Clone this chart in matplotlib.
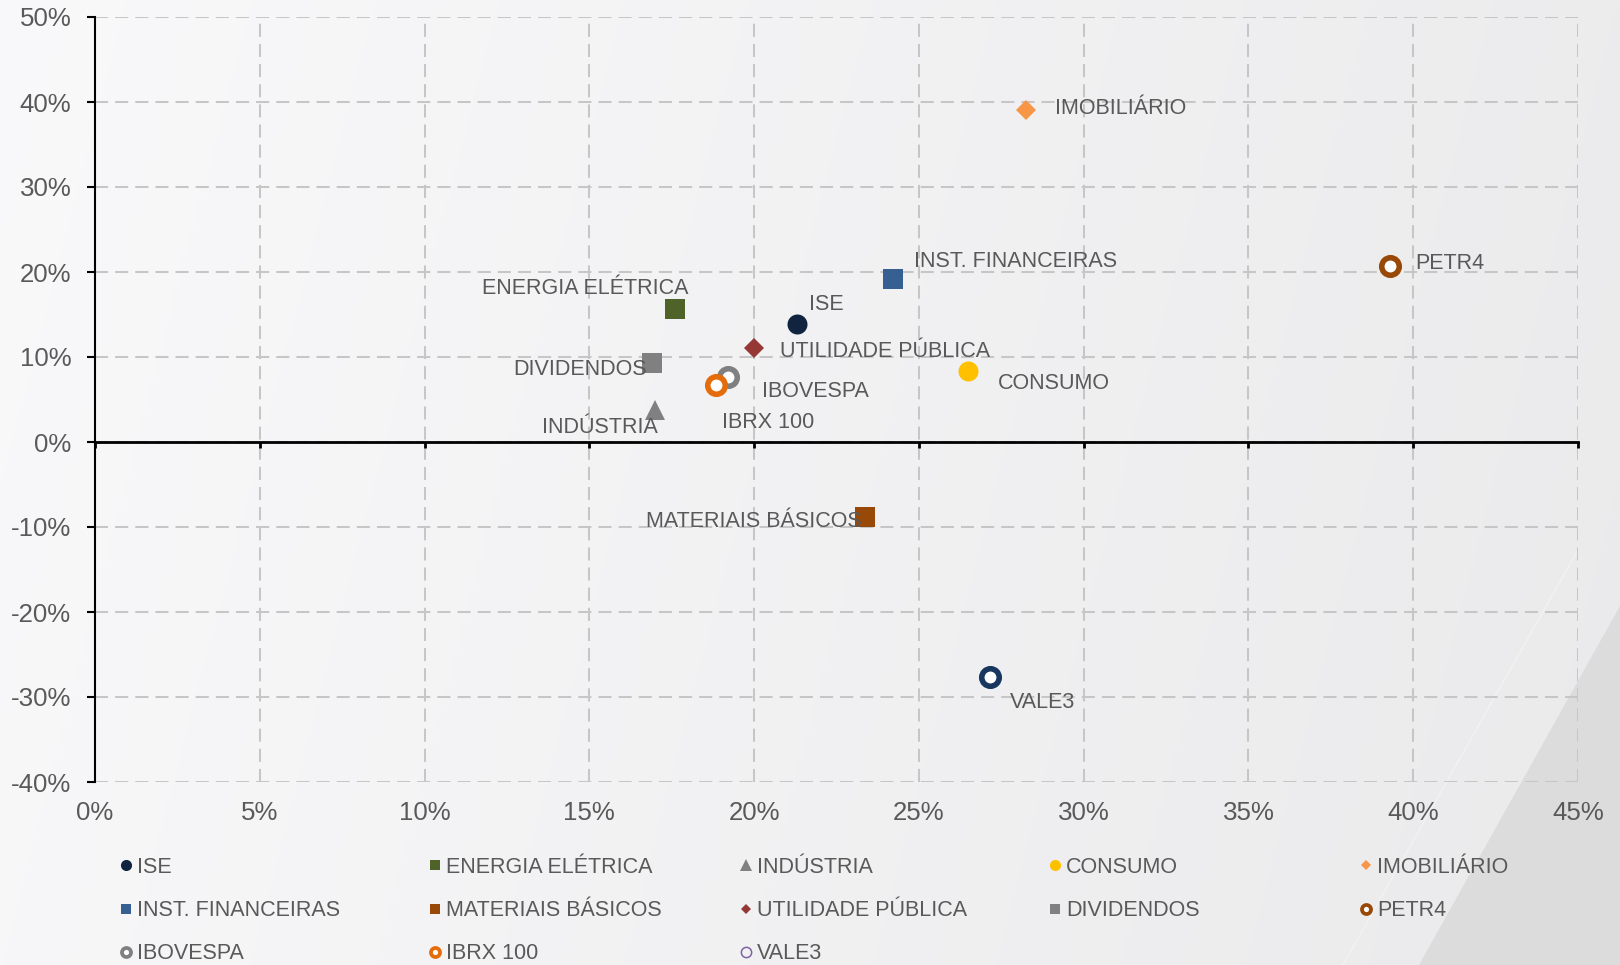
import matplotlib
matplotlib.use('Agg')
import matplotlib.pyplot as plt
from matplotlib.lines import Line2D
from matplotlib.patches import Polygon
from matplotlib.ticker import FuncFormatter, MultipleLocator
import numpy as np

plt.rcParams['font.family'] = ['Liberation Sans', 'DejaVu Sans']

TEXT_COLOR = '#595959'
GRID_COLOR = '#C6C6C6'
LABEL_FS = 15.5

# --- data -------------------------------------------------------------------
names = ['ISE', 'ENERGIA ELÉTRICA', 'INDÚSTRIA', 'CONSUMO', 'IMOBILIÁRIO',
         'INST. FINANCEIRAS', 'MATERIAIS BÁSICOS', 'UTILIDADE PÚBLICA',
         'DIVIDENDOS', 'PETR4', 'IBOVESPA', 'IBRX 100', 'VALE3']
risk = [21.3, 17.6, 17.0, 26.5, 28.25, 24.2, 23.35, 20.0, 16.9, 39.3, 19.2, 18.85, 27.15]
ret = [13.9, 15.6, 3.8, 8.4, 39.0, 19.2, -8.8, 11.1, 9.3, 20.7, 7.6, 6.7, -27.7]

colors = ['#10243F', '#4F6228', '#808080', '#FFC000', '#F79646',
          '#376092', '#984807', '#953735', '#808080', '#984807',
          '#808080', '#E46C0A', '#17375E']
markers = ['o', 's', '^', 'o', 'D', 's', 's', 'D', 's', 'o', 'o', 'o', 'o']
rings = [False, False, False, False, False, False, False, False, False, True, True, True, True]

# label offsets in pixels (dx, dy) and alignment
label_off = [(12, 19.5), (13, 20.5), (3, -17.5), (30, -12.5), (29, 1.5),
             (21, 17.5), (-3, -4.5), (26, -3.5), (-5, -6.5), (25, 2.5),
             (34, -14.5), (6, -37.5), (20, -25.5)]
label_ha = ['left', 'right', 'right', 'left', 'left',
            'left', 'right', 'left', 'right', 'left',
            'left', 'left', 'left']

# --- figure & background ------------------------------------------------------
fig = plt.figure(figsize=(16.2, 9.65), dpi=100)
bg = fig.add_axes([0, 0, 1, 1], zorder=-10)
gx = np.linspace(0, 1, 400)
gy = np.linspace(0, 1, 240)
GX, GY = np.meshgrid(gx, gy)
shade = 249 - 13 * GX - 2 * GY
img = np.dstack([shade, shade, shade + 1.5]) / 255.0
bg.imshow(np.clip(img, 0, 1), extent=(0, 1, 0, 1), aspect='auto', origin='upper')
bg.add_patch(Polygon([(1.0, 0.372), (1.0, 0.0), (0.876, 0.0)], closed=True,
                     facecolor='#DCDCDD', edgecolor='none'))
bg.plot([0.974, 0.829], [0.43, 0.0], color='#F2F2F2', lw=1)
bg.set_xlim(0, 1)
bg.set_ylim(0, 1)
bg.axis('off')

ax = fig.add_axes([95 / 1620, 183 / 965, 1483 / 1620, 765 / 965])
ax.set_facecolor('none')
ax.set_xlim(0, 45)
ax.set_ylim(-40, 50)
ax.xaxis.set_major_locator(MultipleLocator(5))
ax.yaxis.set_major_locator(MultipleLocator(10))
pct = FuncFormatter(lambda v, p: f'{v:.0f}%')
ax.xaxis.set_major_formatter(pct)
ax.yaxis.set_major_formatter(pct)

ax.grid(True, color=GRID_COLOR, lw=1.45, linestyle=(0, (6.5, 3.5)), zorder=0)
for s in ['top', 'right', 'bottom']:
    ax.spines[s].set_visible(False)
ax.spines['left'].set_linewidth(1.5)
ax.spines['left'].set_color('black')
ax.spines['left'].set_zorder(3)

ax.tick_params(axis='y', direction='out', length=5.5, width=1.5, color='black',
               pad=11.5, labelsize=18.6, labelcolor=TEXT_COLOR)
ax.tick_params(axis='x', length=0, pad=13.5, labelsize=18.6, labelcolor=TEXT_COLOR)

# zero line with its small ticks
zero = ax.secondary_xaxis(40 / 90)
zero.xaxis.set_major_locator(MultipleLocator(5))
zero.tick_params(axis='x', direction='out', length=4, width=2, color='black',
                 labelbottom=False, labeltop=False)
zero.spines['bottom'].set_linewidth(2)
zero.spines['bottom'].set_color('black')
zero.spines['top'].set_visible(False)
zero.set_zorder(3)

# --- points -------------------------------------------------------------------
marker_size = {'o': 14.4, 's': 14.4, '^': 14.4, 'D': 10.2}
for i, name in enumerate(names):
    if rings[i]:
        ax.plot(risk[i], ret[i], ls='none', marker='o', ms=12.6, mew=4,
                mec=colors[i], mfc='white', zorder=5 + i)
    else:
        ax.plot(risk[i], ret[i], ls='none', marker=markers[i],
                ms=marker_size[markers[i]], mew=0, mfc=colors[i], zorder=5 + i)
    ax.annotate(name, (risk[i], ret[i]), xytext=label_off[i],
                textcoords='offset pixels', ha=label_ha[i], va='center',
                fontsize=LABEL_FS, color=TEXT_COLOR, zorder=20)

# --- legend (5 columns, row-major order) ---------------------------------------
legend_size = {'o': 8.0, 's': 7.5, '^': 8.0, 'D': 5.5}
handles = []
for i, name in enumerate(names):
    if name == 'VALE3':
        h = Line2D([], [], ls='none', marker='o', ms=7.4, mew=1.1,
                   mec='#8064A2', mfc='none')
    elif rings[i]:
        h = Line2D([], [], ls='none', marker='o', ms=6.5, mew=2.7,
                   mec=colors[i], mfc='white')
    else:
        h = Line2D([], [], ls='none', marker=markers[i],
                   ms=legend_size[markers[i]], mew=0, mfc=colors[i])
    handles.append(h)

col_x = [120, 429, 740, 1049, 1360]
for c in range(5):
    idx = list(range(c, len(names), 5))
    fig.legend([handles[j] for j in idx], [names[j] for j in idx],
               loc='upper left', bbox_to_anchor=(col_x[c] / 1620, 1 - 857 / 965),
               frameon=False, fontsize=LABEL_FS, labelcolor=TEXT_COLOR,
               handlelength=0.55, handletextpad=0.25, labelspacing=1.03,
               borderpad=0, borderaxespad=0)

fig.savefig('out.png', dpi=100)
